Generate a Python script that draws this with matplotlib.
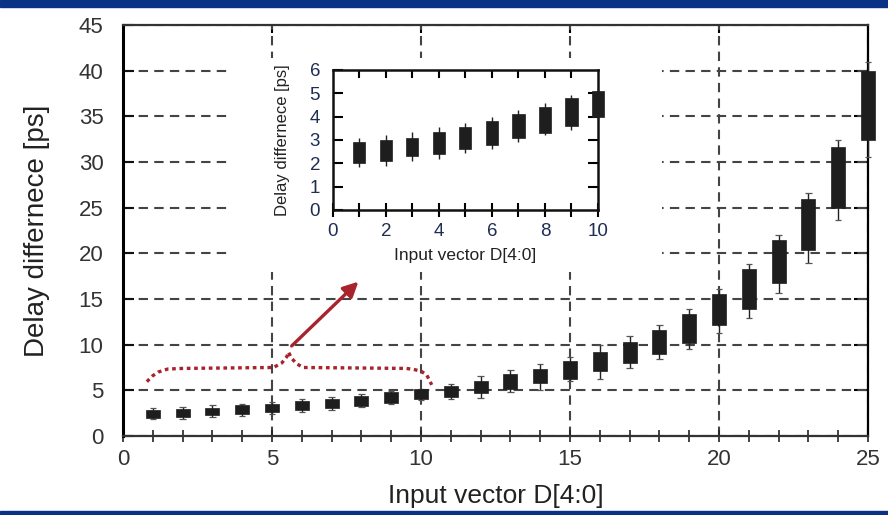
import matplotlib.pyplot as plt
from matplotlib.patches import Rectangle

# input vector index
vec = list(range(1, 26))
# box (25-75%) and whisker ends, delay difference in ps
box_lo = [2.0, 2.1, 2.3, 2.4, 2.6, 2.8, 3.1, 3.3, 3.6, 4.0,
          4.3, 4.7, 5.2, 5.8, 6.25, 7.15, 8.0, 9.0, 10.2, 12.1,
          13.95, 16.7, 20.4, 25.0, 32.4]
box_hi = [2.9, 3.0, 3.1, 3.35, 3.55, 3.8, 4.1, 4.4, 4.8, 5.1,
          5.5, 6.05, 6.8, 7.3, 8.2, 9.15, 10.3, 11.6, 13.35, 15.5,
          18.3, 21.45, 25.95, 31.6, 40.0]
whis_lo = [1.85, 1.9, 2.1, 2.2, 2.45, 2.6, 2.9, 3.2, 3.45, 3.9,
           4.0, 4.2, 4.85, 5.0, 6.0, 6.2, 7.4, 8.4, 9.5, 11.25,
           12.9, 15.7, 18.9, 23.65, 30.5]
whis_hi = [3.1, 3.2, 3.35, 3.55, 3.75, 4.0, 4.3, 4.6, 4.95, 5.2,
           5.7, 6.6, 7.2, 7.85, 8.7, 9.95, 10.9, 12.1, 13.9, 16.1,
           18.8, 22.0, 26.6, 32.4, 41.0]

# zoomed part shown in the inset
n_zoom = 10

# red dotted brace over the first ten vectors (annotation)
brace_x = [0.8, 1.0, 1.18, 1.5, 2.0, 5.05, 5.33, 5.5, 5.55,
           5.66, 5.83, 6.05, 9.5, 9.74, 10.0, 10.19, 10.36]
brace_y = [5.95, 6.6, 7.0, 7.33, 7.4, 7.5, 8.0, 8.7, 9.2,
           8.5, 7.9, 7.5, 7.4, 7.3, 7.1, 6.7, 5.6]

FONT = ['Liberation Sans', 'DejaVu Sans']
RED = '#a8232b'


def draw_boxes(ax, x, lo, hi, wlo, whi, width, cap):
    ax.vlines(x, wlo, whi, color='#222222', lw=1.0, zorder=3, clip_on=False)
    if cap > 0:
        ax.hlines(wlo, [v - cap / 2 for v in x], [v + cap / 2 for v in x],
                  color='#555555', lw=0.9, zorder=3, clip_on=False)
        ax.hlines(whi, [v - cap / 2 for v in x], [v + cap / 2 for v in x],
                  color='#555555', lw=0.9, zorder=3, clip_on=False)
    heights = [h - l for l, h in zip(lo, hi)]
    ax.bar(x, heights, bottom=lo, width=width, color='#1e1e1e',
           edgecolor='#1e1e1e', lw=0.5, zorder=4, clip_on=False)


fig = plt.figure(figsize=(8.88, 5.15), dpi=100)

# blue bands on top and bottom edge
fig.patches.append(Rectangle((0, 1 - 7 / 515), 1, 7 / 515, transform=fig.transFigure,
                             color='#0b3187', zorder=0))
fig.patches.append(Rectangle((0, 0), 1, 4 / 515, transform=fig.transFigure,
                             color='#0b3187', zorder=0))

ax = fig.add_axes([123 / 888, 1 - 436 / 515, 745 / 888, 411 / 515])
ax.set_xlim(0, 25)
ax.set_ylim(0, 45)
ax.set_axisbelow(True)

draw_boxes(ax, vec, box_lo, box_hi, whis_lo, whis_hi, 0.47, 0.22)

ax.set_xticks(range(0, 26, 5))
ax.set_xticks(vec, minor=True)
ax.set_yticks(range(0, 46, 5))
ax.grid(True, which='major', color='#444444', lw=1.5, linestyle=(0, (4.5, 3)))
ax.tick_params(axis='x', which='both', direction='inout', length=9, width=1.2,
               pad=5, labelsize=16, labelcolor='#333333', color='#222222')
ax.tick_params(axis='y', direction='in', length=8, width=1.5, pad=14,
               labelsize=16, labelcolor='#333333', color='#111111')
for lab in ax.get_xticklabels() + ax.get_yticklabels():
    lab.set_family(FONT)

top = ax.secondary_xaxis('top')
top.set_xticks([5, 10, 15, 20])
top.tick_params(direction='in', length=6, width=1.5, labeltop=False)
right = ax.secondary_yaxis('right')
right.set_yticks(range(5, 45, 5))
right.tick_params(direction='in', length=10, width=1.5, labelright=False)
for sec in (top, right):
    for sp in sec.spines.values():
        sp.set_visible(False)

ax.spines['left'].set_linewidth(2.2)
ax.spines['right'].set_linewidth(1.6)
ax.spines['top'].set_linewidth(1.6)
ax.spines['top'].set_color('#333333')
ax.spines['bottom'].set_linewidth(1.6)
ax.spines['bottom'].set_color('#333333')

ax.set_xlabel('Input vector D[4:0]', fontsize=19, family=FONT, color='#222222', labelpad=10)
ax.set_ylabel('Delay differnece [ps]', fontsize=20, family=FONT, color='#222222', labelpad=21)

# white area behind the inset hides the grid there
ax.add_patch(Rectangle((230 / 888, 1 - 272 / 515), 432 / 888, 214 / 515,
                       transform=fig.transFigure, facecolor='white',
                       edgecolor='none', zorder=1, clip_on=False))

# brace and arrow pointing to the inset
ax.plot(brace_x, brace_y, color=RED, lw=2.4, linestyle=(0, (1.1, 1.1)),
        zorder=5, solid_capstyle='butt')
ax.annotate('', xy=(7.9, 16.9), xytext=(5.66, 9.86),
            arrowprops=dict(arrowstyle='-|>,head_length=0.9,head_width=0.45',
                            color=RED, lw=2.4, shrinkA=0, shrinkB=0), zorder=6)

# inset
ins = fig.add_axes([332.7 / 888, 1 - 210 / 515, 265.3 / 888, 140 / 515])
ins.set_xlim(0, 10)
ins.set_ylim(0, 6)
draw_boxes(ins, vec[:n_zoom], box_lo[:n_zoom], box_hi[:n_zoom],
           whis_lo[:n_zoom], whis_hi[:n_zoom], 0.46, 0.0)
ins.set_xticks(range(0, 11, 2))
ins.set_xticks(range(1, 10), minor=True)
ins.set_yticks(range(0, 7))
ins.tick_params(axis='x', which='both', direction='inout', length=10, width=1.5,
                pad=4, labelsize=13.5, labelcolor='#1f2d55')
ins.tick_params(axis='y', direction='in', length=7, width=1.5, pad=9,
                labelsize=13.5, labelcolor='#1f2d55')
for lab in ins.get_xticklabels() + ins.get_yticklabels():
    lab.set_family(FONT)
itop = ins.secondary_xaxis('top')
itop.set_xticks(range(1, 10))
itop.tick_params(direction='in', length=6, width=1.5, labeltop=False)
iright = ins.secondary_yaxis('right')
iright.set_yticks(range(1, 6))
iright.tick_params(direction='in', length=7, width=1.5, labelright=False)
for sec in (itop, iright):
    for sp in sec.spines.values():
        sp.set_visible(False)
for sp in ins.spines.values():
    sp.set_linewidth(1.8)
    sp.set_color('#111111')
ins.set_xlabel('Input vector D[4:0]', fontsize=12.5, family=FONT, color='#222222', labelpad=6)
ins.set_ylabel('Delay differnece [ps]', fontsize=12, family=FONT, color='#222222', labelpad=14)

fig.savefig('out.png', dpi=100)
